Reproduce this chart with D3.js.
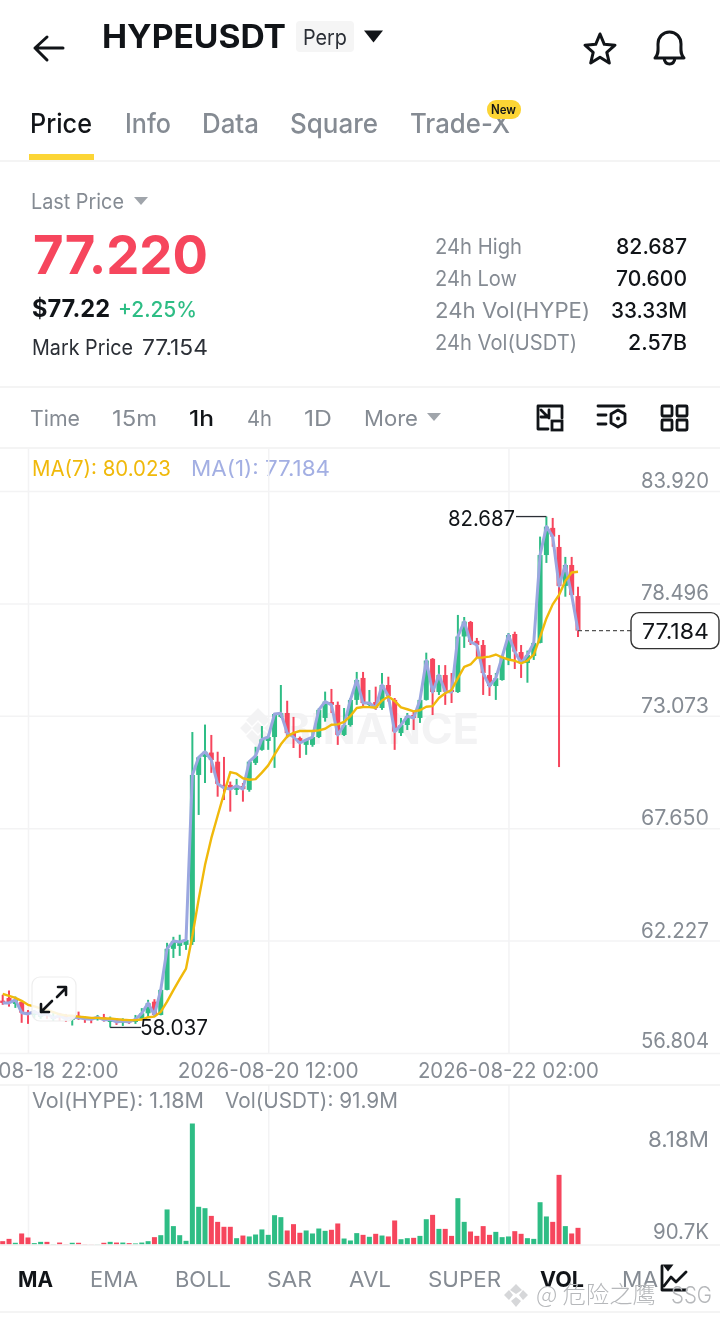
<!DOCTYPE html>
<html>
<head>
<meta charset="utf-8">
<script src="https://cdn.jsdelivr.net/npm/d3@7"></script>
<style>
  html, body { margin: 0; padding: 0; background: #fff; }
  svg { display: block; font-family: Inter, "Noto Sans", sans-serif; filter: blur(0.35px); }
</style>
</head>
<body>
<svg id="drawing_region"></svg>
<script>
// hourly candles
const opens = [59.33,59.46,59.17,59.27,58.79,58.64,58.55,58.80,58.45,58.70,58.60,58.40,58.60,58.50,58.46,58.43,58.53,58.30,58.40,58.27,58.35,58.30,58.45,58.72,59.28,58.64,59.85,61.83,61.97,62.02,62.16,70.22,71.09,71.30,70.86,69.74,69.74,69.50,69.69,69.50,70.80,71.43,71.86,72.05,73.02,73.21,72.24,72.00,71.67,71.67,72.05,72.97,73.74,73.60,72.15,72.63,73.84,74.90,73.60,73.74,73.45,74.56,73.84,72.24,72.63,73.11,72.97,73.84,75.82,74.22,75.04,74.32,74.22,76.90,77.60,76.69,76.49,75.04,74.51,74.80,75.77,77.02,76.15,75.62,75.96,76.59,80.83,82.14,81.22,79.34,80.35,78.85];
const highs = [59.61,59.82,59.53,59.29,58.88,58.88,58.88,58.84,58.79,58.74,58.69,58.56,58.80,58.56,58.53,58.64,58.69,58.56,58.48,58.48,58.43,58.64,58.97,59.37,59.40,59.88,62.12,62.41,62.51,62.42,72.29,71.10,72.65,72.15,71.34,71.09,69.90,70.03,69.83,70.86,71.58,72.58,72.07,73.21,74.56,73.80,73.02,72.07,71.91,72.39,73.45,74.24,74.37,73.76,73.45,73.93,75.19,75.19,74.32,74.48,75.14,74.96,73.93,72.97,73.21,73.27,73.84,76.12,75.86,75.52,75.52,75.14,77.94,77.84,77.65,76.83,76.73,75.52,75.14,76.01,77.07,77.13,76.49,76.22,76.65,81.72,82.687,82.62,81.80,80.74,80.74,79.30];
const lows = [59.13,59.04,58.98,58.26,58.21,58.50,58.45,58.45,58.35,58.35,58.30,58.13,58.40,58.26,58.24,58.37,58.32,58.037,58.16,58.11,58.21,58.21,58.43,58.56,58.56,58.62,59.83,61.39,61.49,61.78,62.02,68.29,69.83,70.32,69.17,69.01,68.45,69.25,68.93,69.41,70.70,71.39,71.43,70.56,72.97,72.00,71.52,71.04,71.19,71.58,72.00,72.79,73.21,71.67,72.10,72.55,73.60,73.55,73.52,73.36,73.36,73.76,71.43,72.10,72.39,72.39,72.73,73.81,73.11,74.08,73.60,73.69,74.18,76.35,76.49,75.91,74.08,74.03,73.84,74.77,75.52,75.33,74.90,74.67,75.77,76.57,80.45,81.23,70.60,78.82,78.90,76.88];
const closes = [59.22,59.22,59.37,58.75,58.69,58.80,58.64,58.69,58.50,58.60,58.45,58.53,58.50,58.46,58.43,58.53,58.40,58.43,58.30,58.35,58.30,58.43,58.72,59.21,58.64,59.85,61.83,62.21,62.16,62.26,70.22,71.07,71.34,70.94,69.79,69.59,69.54,69.69,69.54,70.86,71.14,71.94,72.05,73.16,73.20,72.24,72.05,71.76,71.91,72.05,73.36,73.76,73.60,72.15,72.63,73.84,74.80,73.69,73.69,73.45,74.56,74.03,72.31,72.63,73.06,72.97,73.84,75.74,74.22,75.04,74.24,74.22,76.90,77.62,76.64,76.49,75.14,74.51,74.89,75.91,76.97,76.17,75.62,76.01,76.59,80.83,82.20,81.72,79.34,80.35,78.90,77.184];
const ma7 = [59.66,59.56,59.46,59.32,59.13,59.05,58.96,58.88,58.78,58.67,58.62,58.60,58.56,58.53,58.50,58.50,58.47,58.47,58.44,58.41,58.39,58.39,58.42,58.53,58.56,58.79,59.28,59.84,60.37,60.88,62.45,64.23,65.87,67.17,68.25,69.32,70.36,70.28,70.06,69.99,70.02,70.33,70.68,71.20,71.70,72.08,72.25,72.34,72.34,72.34,72.37,72.45,72.64,72.66,72.78,73.06,73.45,73.50,73.49,73.46,73.81,74.01,73.79,73.48,73.39,73.29,73.34,73.51,73.54,73.93,74.16,74.32,74.89,75.43,75.55,75.88,75.89,75.93,76.03,75.89,75.79,75.73,75.60,75.73,76.02,76.87,77.77,78.45,78.90,79.58,79.99,80.023];
// volume in millions of HYPE
const volumes = [0.29,0.49,0.15,0.96,0.61,0.12,0.23,0.23,0.03,0.17,0.03,0.15,0.15,0.03,0.02,0.02,0.15,0.23,0.17,0.17,0.12,0.09,0.17,0.29,0.64,0.81,3.05,1.60,0.81,0.32,10.53,3.28,3.16,2.49,1.97,1.54,1.54,0.55,0.78,0.70,0.87,1.31,0.84,2.55,2.38,1.22,1.77,1.02,1.22,0.96,1.39,1.19,1.28,1.83,0.52,0.35,0.99,0.84,0.67,0.93,0.78,0.70,2.09,0.46,0.55,0.58,0.75,2.20,2.58,1.36,1.36,0.75,4.03,1.97,1.13,0.75,1.60,0.84,1.10,0.64,0.70,1.16,0.93,0.55,0.49,3.68,2.44,1.97,6.06,1.60,0.96,1.45];

const priceTicks = [83.920, 78.496, 73.073, 67.650, 62.227, 56.804];
const volumeTicks = [8.18, 0.0907];
const volumeLabels = ["8.18M", "90.7K"];
const timeIndexes = [4, 42, 80];
const timeLabels = ["2026-08-18 22:00", "2026-08-20 12:00", "2026-08-22 02:00"];

const tabs = [["Price",30,62],["Info",125,46],["Data",202,57],["Square",290,88],["Trade-X",410,100]];
const stats = [["24h High","82.687",87,71],["24h Low","70.600",82,71],["24h Vol(HYPE)","33.33M",155,76],["24h Vol(USDT)","2.57B",142,59]];
const intervals = [["Time",30,50],["15m",112,45],["1h",189,25],["4h",247,25],["1D",304,28],["More",364,54]];
const indicators = [["MA",18,35],["EMA",90,48],["BOLL",175,56],["SAR",267,45],["AVL",349,42],["SUPER",428,73],["VOL",540,44],["MA",622,36]];

const GREEN = "#2ebd85", RED = "#f6465d", GRAY = "#858b93", GRID = "#f3f3f4", INK = "#111418";

const svg = d3.select("#drawing_region").attr("width", 720).attr("height", 1320);

const x = d3.scaleLinear().domain([0, 91]).range([2.7, 578]);
const yPrice = d3.scaleLinear().domain([83.92, 56.804]).range([491, 1053]);
const yVol = d3.scaleLinear().domain([0, 10.53]).range([1244.5, 1123.5]);

function label(t, px, py, size, fill, width, weight, anchor) {
    const el = svg.append("text")
        .attr("x", px).attr("y", py)
        .attr("font-size", size).attr("fill", fill)
        .attr("font-weight", weight || 400)
        .attr("text-anchor", anchor || "start")
        .text(t);
    if (width) el.attr("textLength", width).attr("lengthAdjust", "spacingAndGlyphs");
    return el;
}
function rule(py, color) {
    svg.append("line").attr("x1", 0).attr("x2", 720).attr("y1", py).attr("y2", py)
        .attr("stroke", color || "#f0f0f1").attr("stroke-width", 1.5);
}
function icon(d, sw) {
    svg.append("path").attr("d", d).attr("fill", "none").attr("stroke", INK)
        .attr("stroke-width", sw || 3).attr("stroke-linejoin", "round").attr("stroke-linecap", "round");
}
function tri(cx, cy, w, h, color) {
    svg.append("path").attr("d", `M${cx-w/2},${cy-h/2}H${cx+w/2}L${cx},${cy+h/2}Z`).attr("fill", color);
}

// header
icon("M35,48H63M47,37L35,48L47,60", 3);
label("HYPEUSDT", 102, 48, 32, INK, 184, 700);
svg.append("rect").attr("x", 296).attr("y", 21).attr("width", 58).attr("height", 31).attr("rx", 4).attr("fill", "#f5f5f5");
label("Perp", 303, 45, 21, "#2b2f36", 44);
tri(373.5, 36.5, 19, 12, INK);
icon("M600,34L604.3,44.3L615,45.2L606.8,52.3L609.3,63L600,57.3L590.7,63L593.2,52.3L585,45.2L595.7,44.3Z", 3);
icon("M655,58C659,54 658,50 658,44C658,37 663,32 669.5,32C676,32 681,37 681,44C681,50 680,54 684,58Z M664,58C665,66 674,66 675,58", 3);

// tabs
tabs.forEach((d, i) => label(d[0], d[1], 133, 27, i ? GRAY : INK, d[2], 500));
svg.append("rect").attr("x", 487).attr("y", 100).attr("width", 34).attr("height", 19).attr("rx", 9).attr("fill", "#fcd535");
label("New", 491, 114, 12.5, INK, 25, 600);
svg.append("rect").attr("x", 29).attr("y", 154).attr("width", 65).attr("height", 6).attr("fill", "#fcd535");
rule(161);

// price block
label("Last Price", 31, 209, 21, GRAY, 93);
tri(141, 201, 14, 8, "#a0a5ab");
label("77.220", 33, 274, 54, RED, 175, 700);
label("$77.22", 32, 317, 24, INK, 78, 700);
label("+2.25%", 118, 317, 22, GREEN, 79, 500);
label("Mark Price", 32, 355, 21, "#2b2f36", 101);
label("77.154", 142, 355, 21, "#2b2f36", 66);
stats.forEach((d, i) => {
    const py = 254 + i * 32;
    label(d[0], 435, py, 21, GRAY, d[2]);
    label(d[1], 687 - d[3], py, 21, INK, d[3], 500);
});
rule(387);

// interval bar
intervals.forEach((d, i) => label(d[0], d[1], 426, 22, d[0] === "1h" ? INK : GRAY, d[2], d[0] === "1h" ? 500 : 400));
tri(434, 417, 14, 8, "#a0a5ab");
icon("M550,406H538V429H548M562,418V406H551M541,410L549,418M541,417H549V410", 2.8);
svg.append("rect").attr("x", 552).attr("y", 421).attr("width", 10).attr("height", 9).attr("fill", "none").attr("stroke", INK).attr("stroke-width", 2.8);
icon("M598,406H624M598,415H606M598,424H606M618,410L625,414V423L618,427L611,423V414Z", 2.8);
svg.append("circle").attr("cx", 618).attr("cy", 418.5).attr("r", 2).attr("fill", INK);
[662, 677].forEach(gx => [406, 420].forEach(gy => {
    svg.append("rect").attr("x", gx).attr("y", gy).attr("width", 10).attr("height", 10).attr("rx", 1)
        .attr("fill", "none").attr("stroke", INK).attr("stroke-width", 2.8);
}));
rule(448);

// legend
label("MA(7): 80.023", 32, 476, 21, "#f0b90b", 139);
label("MA(1): 77.184", 191, 476, 21, "#a3afe3", 139);

// vertical grid, price and volume panels
const xAxisPrice = d3.axisBottom(x).tickValues(timeIndexes).tickSize(604).tickFormat((d, i) => timeLabels[i]);
const gx1 = svg.append("g").attr("transform", "translate(0,449)").call(xAxisPrice);
gx1.select(".domain").remove();
gx1.selectAll("line").attr("stroke", GRID).attr("stroke-width", 1.5);
gx1.selectAll("text").attr("y", 0).attr("dy", 0).attr("transform", "translate(-0.5,629)")
    .attr("font-size", 21).attr("font-family", "Inter").attr("fill", GRAY)
    .attr("textLength", 181).attr("lengthAdjust", "spacingAndGlyphs");

const xAxisVol = d3.axisBottom(x).tickValues(timeIndexes).tickSize(160).tickFormat("");
const gx2 = svg.append("g").attr("transform", "translate(0,1085)").call(xAxisVol);
gx2.select(".domain").remove();
gx2.selectAll("line").attr("stroke", GRID).attr("stroke-width", 1.5);

const yAxisPrice = d3.axisLeft(yPrice).tickValues(priceTicks).tickSize(-720).tickFormat(d3.format(".3f"));
const gy1 = svg.append("g").call(yAxisPrice);
gy1.select(".domain").remove();
gy1.selectAll("line").attr("stroke", GRID).attr("stroke-width", 1.5);
gy1.selectAll("text").attr("x", 709).attr("dy", (d, i) => i === 5 ? -5.5 : -3.5)
    .attr("font-size", 21).attr("font-family", "Inter").attr("fill", GRAY)
    .attr("textLength", 68).attr("lengthAdjust", "spacingAndGlyphs");

// watermark behind the candles
svg.append("path").attr("fill", "#f3f3f4")
    .attr("d", "M258,708L270,720L264,726L258,720L252,726L246,720Z M240,728L246,722L252,728L246,734Z M264,728L270,722L276,728L270,734Z M252,728L258,722L264,728L258,734Z M246,736L252,730L258,736L264,730L270,736L258,748Z");
label("BINANCE", 282, 744, 42, "#f3f3f4", 197, 700);

// candles
const chart = svg.append("g");
const idx = d3.range(closes.length);
chart.selectAll("line.wick").data(idx).enter().append("line").attr("class", "wick")
    .attr("x1", i => x(i)).attr("x2", i => x(i))
    .attr("y1", i => yPrice(highs[i])).attr("y2", i => yPrice(lows[i]))
    .attr("stroke", i => closes[i] >= opens[i] ? GREEN : RED).attr("stroke-width", 2);
chart.selectAll("rect.body").data(idx).enter().append("rect").attr("class", "body")
    .attr("x", i => x(i) - 2.5).attr("width", 5)
    .attr("y", i => yPrice(Math.max(opens[i], closes[i])))
    .attr("height", i => Math.max(1.2, Math.abs(yPrice(opens[i]) - yPrice(closes[i]))))
    .attr("fill", i => closes[i] >= opens[i] ? GREEN : RED);

// volume bars
svg.selectAll("rect.vol").data(idx).enter().append("rect").attr("class", "vol")
    .attr("x", i => x(i) - 2.5).attr("width", 5)
    .attr("y", i => yVol(volumes[i]))
    .attr("height", i => yVol(0) - yVol(volumes[i]))
    .attr("fill", i => closes[i] >= opens[i] ? GREEN : RED);

// moving averages
const line = d3.line().x((d, i) => x(i)).y(d => yPrice(d)).curve(d3.curveLinear);
chart.append("path").attr("d", line(closes)).attr("fill", "none")
    .attr("stroke", "#9ba7e0").attr("stroke-width", 3).attr("stroke-linejoin", "round");
chart.append("path").attr("d", line(ma7)).attr("fill", "none")
    .attr("stroke", "#f0b90b").attr("stroke-width", 2.4).attr("stroke-linejoin", "round");

// high, low and last price markers
const hi = d3.max(highs), lo = d3.min(lows);
svg.append("path").attr("fill", "none").attr("stroke", "#2b2f36").attr("stroke-width", 1.3)
    .attr("d", `M516,${yPrice(hi)}H${x(highs.indexOf(hi))}`);
label(d3.format(".3f")(hi), 448, yPrice(hi) + 9, 21, INK, 67);
svg.append("path").attr("fill", "none").attr("stroke", "#2b2f36").attr("stroke-width", 1.3)
    .attr("d", `M${x(lows.indexOf(lo))},${yPrice(lo)}H141`);
label(d3.format(".3f")(lo), 140, yPrice(lo) + 8, 21, INK, 68);

const last = closes[closes.length - 1];
svg.append("line").attr("x1", x(91)).attr("x2", 631).attr("y1", yPrice(last)).attr("y2", yPrice(last))
    .attr("stroke", "#555").attr("stroke-width", 1.2).attr("stroke-dasharray", "4 3");
svg.append("rect").attr("x", 631).attr("y", yPrice(last) - 18).attr("width", 88).attr("height", 36).attr("rx", 8)
    .attr("fill", "#fff").attr("stroke", "#333").attr("stroke-width", 1.4);
label(d3.format(".3f")(last), 642, yPrice(last) + 8, 22, INK, 67);

// expand button
svg.append("rect").attr("x", 32).attr("y", 977).attr("width", 44).attr("height", 44).attr("rx", 8)
    .attr("fill", "#fff").attr("fill-opacity", 0.86).attr("stroke", "#eeeeee").attr("stroke-width", 1.2);
icon("M41,1012L52,1001M57,997L66,988M41,1004V1012H49M58,987H66V995", 2.6);

// time axis edge and volume panel
rule(1085);
label("Vol(HYPE): 1.18M", 32, 1108, 21, GRAY, 172);
label("Vol(USDT): 91.9M", 225, 1108, 21, GRAY, 173);
const yAxisVol = d3.axisLeft(yVol).tickValues(volumeTicks).tickSize(0).tickFormat((d, i) => volumeLabels[i]);
const gy2 = svg.append("g").call(yAxisVol);
gy2.select(".domain").remove();
gy2.selectAll("text").attr("x", 709).attr("dy", -4.5)
    .attr("font-size", 21).attr("font-family", "Inter").attr("fill", GRAY)
    .attr("textLength", (d, i) => i ? 56 : 61).attr("lengthAdjust", "spacingAndGlyphs");
rule(1245);

// indicator tabs
indicators.forEach((d, i) => label(d[0], d[1], 1287, 22, (i === 0 || i === 6) ? INK : GRAY, d[2], (i === 0 || i === 6) ? 700 : 400));
icon("M662,1266V1290H686M664,1286L671,1277L676,1282L686,1272", 2.8);
tri(668, 1268, 11, 7, INK);
rule(1312);

// screenshot watermark
svg.append("path").attr("fill", "#d6d7d9")
    .attr("d", "M516,1284L522,1290L516,1294L510,1290Z M504,1295L509,1290L513,1295L509,1300Z M519,1295L523,1290L528,1295L523,1300Z M511,1301L516,1297L521,1301L516,1307Z");
label("@ 危险之鹰", 536, 1303, 24, "#b6b8bb", 120).attr("font-family", '"Noto Sans CJK SC"').attr("font-weight", 300);
label("SSG", 671, 1303, 23, "#b6b8bb", 41).attr("font-weight", 300);
</script>
</body>
</html>
